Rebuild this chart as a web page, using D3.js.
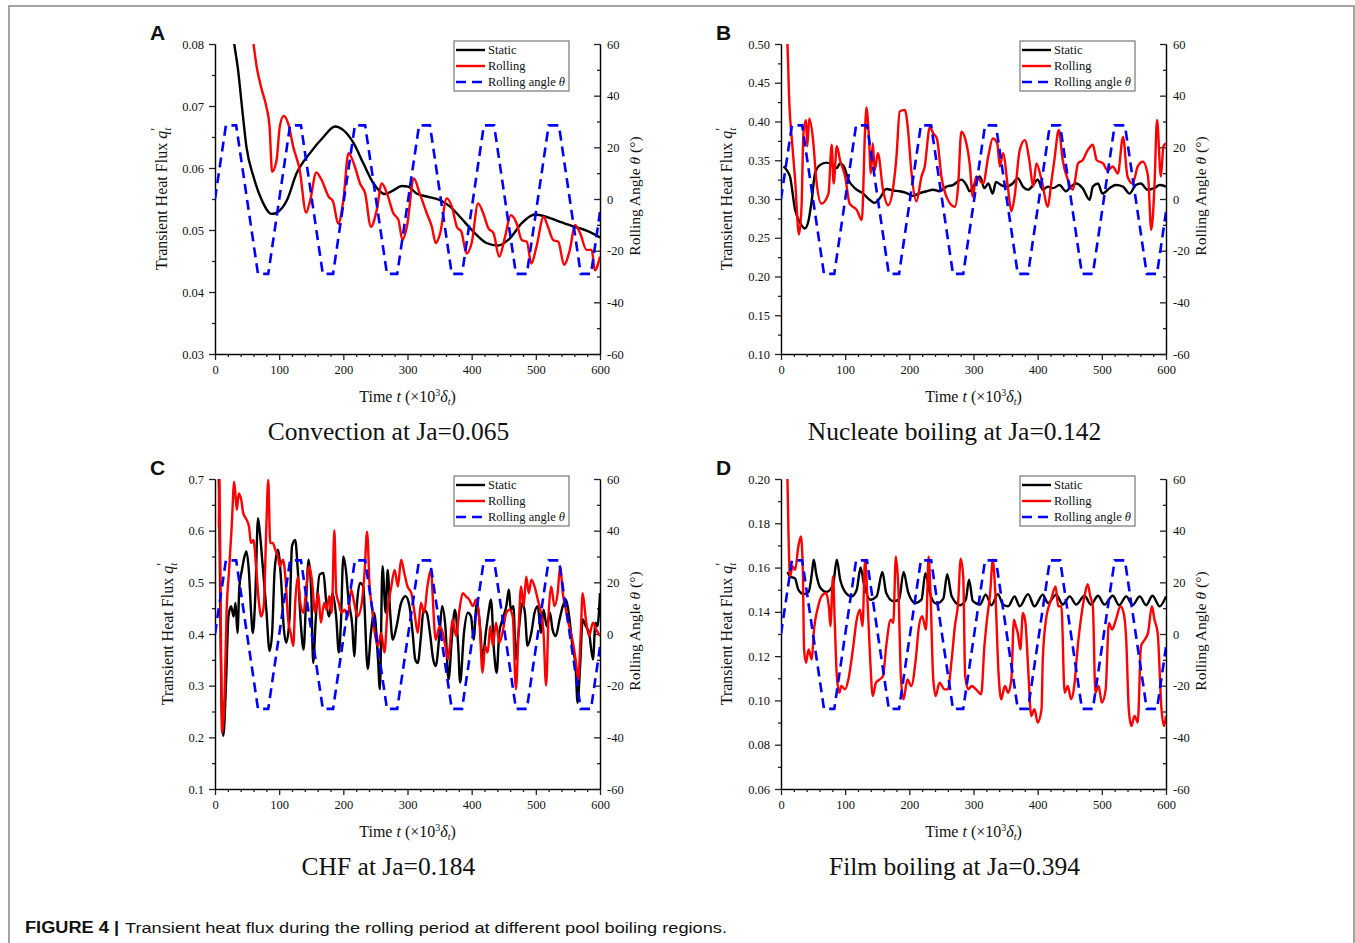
<!DOCTYPE html>
<html>
<head>
<meta charset="utf-8">
<script src="https://cdn.jsdelivr.net/npm/d3@7"></script>
<style>
body { margin: 0; background: #fff; }
svg text { fill: #111; }
.serif { font-family: "Liberation Serif", "Times New Roman", serif; }
.sans { font-family: "Liberation Sans", Arial, sans-serif; }
</style>
</head>
<body>
<div id="fig"></div>
<script>
let w = 1355;
let h = 943;
let plotW = 385;
let plotH = 310;

// rolling angle theta (deg), same motion in every panel
let angleT = [0, 17, 33, 67, 83, 117, 134, 168, 184, 218, 234, 268, 284, 318, 335, 369, 385, 419, 435, 469, 486, 520, 536, 570, 586, 600];
let angleV = [0, 28.5, 28.5, -29, -29, 28.5, 28.5, -29, -29, 28.5, 28.5, -29, -29, 28.5, 28.5, -29, -29, 28.5, 28.5, -29, -29, 28.5, 28.5, -29, -29, -5];

// A: convection, Ja=0.065
let staticA = [[28,0.0815],[30,0.0800],[36,0.0758],[42,0.0699],[49,0.0634],[60,0.0586],[73,0.0548],[88,0.0526],[99,0.0530],[112,0.0548],[127,0.0591],[148,0.0624],[169,0.0650],[187,0.0667],[200,0.0661],[216,0.0640],[231,0.0608],[247,0.0575],[265,0.0558],[278,0.0564],[291,0.0571],[301,0.0570],[314,0.0559],[330,0.0554],[351,0.0548],[366,0.0538],[382,0.0521],[403,0.0497],[423,0.0479],[441,0.0475],[460,0.0487],[478,0.0511],[499,0.0525],[517,0.0521],[538,0.0513],[558,0.0506],[579,0.0499],[600,0.0488]];
let rollingA = [[57,0.0820],[60,0.0800],[65,0.0763],[73,0.0726],[80,0.0699],[85,0.0667],[89,0.0594],[96,0.0613],[101,0.0667],[107,0.0684],[114,0.0672],[122,0.0634],[132,0.0597],[142,0.0528],[148,0.0546],[158,0.0593],[166,0.0581],[177,0.0554],[184,0.0546],[192,0.0510],[200,0.0548],[208,0.0624],[218,0.0602],[226,0.0575],[234,0.0559],[243,0.0505],[252,0.0532],[260,0.0575],[268,0.0559],[278,0.0527],[286,0.0516],[292,0.0484],[299,0.0505],[310,0.0583],[319,0.0559],[330,0.0527],[338,0.0505],[344,0.0479],[351,0.0495],[361,0.0551],[369,0.0538],[377,0.0505],[384,0.0497],[392,0.0462],[400,0.0479],[410,0.0543],[418,0.0527],[426,0.0503],[434,0.0495],[443,0.0457],[452,0.0489],[461,0.0524],[470,0.0511],[478,0.0484],[486,0.0481],[493,0.0446],[501,0.0473],[512,0.0521],[519,0.0505],[527,0.0484],[535,0.0481],[544,0.0444],[553,0.0468],[561,0.0508],[569,0.0495],[579,0.0468],[587,0.0468],[592,0.0435],[600,0.0457]];

// B: nucleate boiling, Ja=0.142
let staticB = [[4,0.342],[10,0.336],[14,0.329],[22,0.286],[30,0.269],[37,0.262],[42,0.269],[48,0.299],[53,0.333],[61,0.344],[71,0.347],[81,0.344],[87,0.340],[92,0.346],[98,0.342],[105,0.325],[115,0.314],[128,0.307],[138,0.299],[146,0.295],[154,0.301],[164,0.313],[175,0.311],[185,0.310],[195,0.308],[206,0.304],[214,0.307],[227,0.310],[237,0.312],[247,0.310],[258,0.316],[268,0.318],[281,0.325],[289,0.318],[294,0.310],[302,0.320],[310,0.329],[317,0.314],[323,0.320],[330,0.307],[335,0.322],[343,0.318],[351,0.316],[361,0.320],[369,0.327],[377,0.316],[385,0.312],[393,0.318],[400,0.325],[408,0.312],[416,0.316],[424,0.314],[434,0.318],[444,0.310],[452,0.316],[460,0.320],[470,0.314],[481,0.299],[486,0.316],[494,0.320],[501,0.307],[512,0.314],[522,0.318],[533,0.316],[543,0.307],[553,0.318],[561,0.320],[571,0.312],[582,0.314],[590,0.318],[600,0.316]];
let rollingB = [[8,0.520],[10,0.500],[13,0.423],[17,0.376],[22,0.325],[28,0.254],[32,0.290],[35,0.385],[39,0.402],[41,0.368],[44,0.404],[50,0.376],[55,0.325],[63,0.294],[74,0.307],[79,0.370],[82,0.320],[87,0.368],[92,0.350],[100,0.329],[107,0.294],[118,0.286],[126,0.273],[131,0.389],[133,0.418],[137,0.381],[140,0.333],[143,0.372],[146,0.337],[151,0.359],[159,0.312],[167,0.292],[175,0.316],[180,0.355],[185,0.413],[193,0.415],[198,0.389],[203,0.337],[211,0.297],[219,0.329],[224,0.342],[232,0.393],[237,0.385],[243,0.378],[250,0.329],[260,0.299],[271,0.290],[276,0.316],[281,0.387],[287,0.378],[294,0.346],[299,0.303],[304,0.329],[315,0.320],[323,0.355],[330,0.378],[337,0.372],[341,0.342],[346,0.359],[354,0.312],[359,0.284],[364,0.303],[372,0.363],[380,0.376],[387,0.350],[393,0.316],[398,0.346],[406,0.325],[416,0.290],[421,0.320],[426,0.350],[433,0.389],[439,0.350],[447,0.325],[455,0.312],[463,0.346],[470,0.350],[478,0.363],[486,0.370],[492,0.350],[502,0.346],[509,0.337],[517,0.342],[525,0.333],[533,0.380],[540,0.329],[548,0.320],[556,0.342],[564,0.348],[572,0.329],[577,0.260],[582,0.316],[586,0.402],[592,0.329],[596,0.368],[600,0.372]];

// C: CHF, Ja=0.184
let staticC = [[5,0.720],[6,0.700],[8,0.479],[10,0.274],[13,0.203],[17,0.300],[21,0.434],[25,0.454],[29,0.434],[32,0.460],[35,0.402],[38,0.492],[42,0.524],[46,0.550],[49,0.560],[53,0.518],[56,0.447],[59,0.402],[63,0.479],[67,0.624],[70,0.595],[74,0.537],[80,0.447],[85,0.367],[89,0.402],[93,0.524],[98,0.563],[103,0.505],[107,0.415],[111,0.383],[116,0.428],[120,0.570],[125,0.582],[129,0.524],[134,0.415],[138,0.370],[142,0.467],[146,0.544],[150,0.479],[153,0.344],[157,0.428],[163,0.515],[169,0.518],[173,0.467],[178,0.434],[183,0.479],[189,0.431],[193,0.364],[196,0.415],[200,0.550],[204,0.524],[208,0.467],[214,0.415],[217,0.357],[221,0.454],[226,0.499],[231,0.492],[238,0.332],[243,0.402],[248,0.441],[254,0.351],[257,0.293],[261,0.531],[266,0.441],[269,0.524],[273,0.441],[277,0.389],[283,0.415],[290,0.460],[297,0.473],[303,0.454],[308,0.402],[312,0.351],[316,0.344],[321,0.396],[325,0.447],[330,0.441],[335,0.402],[340,0.351],[344,0.338],[350,0.402],[354,0.454],[359,0.415],[364,0.312],[369,0.389],[374,0.447],[379,0.377],[382,0.306],[388,0.402],[394,0.441],[399,0.434],[403,0.389],[408,0.460],[413,0.415],[417,0.351],[422,0.402],[427,0.447],[430,0.467],[435,0.364],[439,0.325],[443,0.402],[448,0.428],[454,0.454],[458,0.486],[461,0.447],[465,0.454],[469,0.351],[473,0.402],[479,0.460],[483,0.441],[487,0.377],[493,0.402],[498,0.441],[503,0.454],[508,0.402],[512,0.447],[517,0.415],[522,0.441],[526,0.409],[531,0.396],[537,0.428],[542,0.454],[547,0.467],[552,0.434],[557,0.377],[562,0.338],[565,0.267],[569,0.338],[573,0.428],[578,0.415],[583,0.402],[589,0.351],[593,0.422],[596,0.415],[600,0.479]];
let rollingC = [[6,0.608],[7,0.700],[9,0.428],[11,0.209],[15,0.287],[18,0.441],[22,0.524],[26,0.608],[30,0.695],[34,0.640],[37,0.672],[41,0.659],[44,0.634],[48,0.624],[53,0.608],[56,0.576],[60,0.582],[64,0.531],[68,0.467],[72,0.434],[76,0.454],[80,0.608],[83,0.698],[86,0.576],[90,0.576],[94,0.563],[98,0.550],[101,0.531],[106,0.544],[110,0.505],[114,0.428],[118,0.402],[122,0.377],[125,0.460],[129,0.511],[133,0.460],[138,0.441],[142,0.486],[147,0.531],[151,0.505],[156,0.441],[161,0.479],[165,0.422],[170,0.460],[174,0.447],[178,0.473],[182,0.441],[186,0.601],[189,0.479],[193,0.460],[197,0.441],[202,0.447],[207,0.434],[212,0.486],[217,0.460],[222,0.434],[228,0.454],[233,0.518],[237,0.598],[241,0.492],[245,0.447],[249,0.402],[254,0.377],[259,0.402],[264,0.364],[269,0.447],[274,0.486],[280,0.524],[285,0.492],[290,0.544],[295,0.518],[300,0.492],[306,0.479],[311,0.441],[316,0.402],[321,0.460],[326,0.441],[331,0.492],[337,0.524],[339,0.479],[344,0.389],[350,0.415],[355,0.402],[359,0.377],[363,0.351],[366,0.377],[370,0.428],[376,0.396],[381,0.447],[386,0.479],[391,0.473],[396,0.467],[402,0.454],[407,0.467],[412,0.428],[417,0.325],[421,0.377],[425,0.364],[429,0.415],[433,0.377],[438,0.422],[443,0.383],[448,0.402],[454,0.441],[459,0.447],[464,0.434],[469,0.293],[473,0.402],[477,0.492],[481,0.454],[485,0.511],[489,0.479],[493,0.505],[498,0.492],[503,0.467],[508,0.441],[512,0.402],[516,0.300],[520,0.441],[524,0.492],[529,0.454],[534,0.479],[538,0.531],[542,0.479],[547,0.447],[552,0.415],[557,0.389],[562,0.351],[566,0.312],[570,0.402],[573,0.479],[578,0.428],[583,0.396],[589,0.422],[594,0.409],[600,0.396]];

// D: film boiling, Ja=0.394
let staticD = [[10,0.158],[14,0.156],[22,0.155],[27,0.150],[35,0.148],[43,0.149],[48,0.157],[51,0.1635],[55,0.157],[61,0.151],[71,0.149],[81,0.152],[87,0.1635],[92,0.155],[100,0.149],[110,0.147],[118,0.150],[124,0.160],[129,0.153],[139,0.1455],[149,0.147],[158,0.158],[164,0.1485],[175,0.1448],[184,0.1455],[191,0.158],[198,0.149],[209,0.144],[219,0.1455],[225,0.1575],[232,0.1485],[242,0.1437],[253,0.146],[259,0.157],[266,0.147],[279,0.143],[288,0.1455],[293,0.1545],[299,0.1448],[310,0.1433],[319,0.1478],[328,0.143],[338,0.148],[346,0.1433],[354,0.1425],[364,0.147],[372,0.1425],[385,0.148],[395,0.1425],[408,0.1478],[416,0.144],[429,0.1478],[439,0.1433],[450,0.147],[460,0.1433],[473,0.1473],[483,0.1433],[494,0.1473],[504,0.1433],[517,0.1473],[527,0.143],[538,0.147],[548,0.143],[559,0.147],[569,0.143],[579,0.1473],[590,0.1425],[600,0.147]];
let rollingD = [[9,0.204],[10,0.200],[12,0.171],[14,0.156],[18,0.1605],[22,0.159],[27,0.1695],[31,0.174],[34,0.159],[36,0.123],[39,0.117],[43,0.123],[48,0.1185],[51,0.1305],[58,0.1425],[63,0.147],[70,0.1485],[75,0.141],[77,0.1335],[81,0.156],[84,0.1335],[87,0.111],[91,0.1035],[94,0.1065],[100,0.105],[105,0.1095],[112,0.123],[118,0.1365],[123,0.141],[127,0.1335],[131,0.1635],[135,0.144],[139,0.1185],[143,0.102],[148,0.108],[154,0.1095],[159,0.111],[164,0.1245],[171,0.1365],[175,0.135],[179,0.165],[183,0.150],[187,0.1095],[191,0.1005],[197,0.1095],[203,0.1065],[210,0.1185],[215,0.1335],[220,0.138],[226,0.132],[230,0.165],[233,0.1485],[237,0.111],[241,0.102],[247,0.108],[255,0.105],[260,0.105],[266,0.1185],[271,0.1335],[276,0.144],[280,0.164],[284,0.156],[287,0.111],[292,0.105],[297,0.1065],[304,0.105],[312,0.1028],[317,0.1245],[321,0.1365],[326,0.1485],[330,0.1635],[334,0.1485],[339,0.1125],[343,0.1005],[349,0.1065],[354,0.1035],[359,0.1095],[363,0.1365],[366,0.1335],[369,0.1305],[373,0.123],[377,0.1395],[381,0.135],[385,0.1155],[390,0.093],[395,0.096],[400,0.090],[406,0.096],[408,0.1185],[413,0.1365],[421,0.1455],[428,0.1515],[432,0.1425],[437,0.1425],[442,0.1035],[447,0.1065],[452,0.1005],[457,0.1065],[463,0.126],[468,0.138],[473,0.147],[478,0.1525],[482,0.147],[486,0.1425],[490,0.1035],[495,0.1065],[500,0.099],[506,0.105],[511,0.135],[516,0.132],[522,0.1365],[529,0.1425],[534,0.1395],[538,0.1275],[542,0.096],[546,0.0885],[551,0.093],[556,0.090],[561,0.1245],[567,0.1275],[572,0.1305],[578,0.1425],[582,0.1365],[587,0.1305],[593,0.096],[597,0.0885],[600,0.093]];

let xMajor = [0, 100, 200, 300, 400, 500, 600];
let angleMajor = [-60, -40, -20, 0, 20, 40, 60];
let legendLabels = ["Static", "Rolling", "Rolling angle "];

let svg = d3.select("#fig")
    .append("svg")
    .attr("width", w)
    .attr("height", h)

// outer frame of the figure
svg.append("path")
    .attr("d", "M9," + h + " V6 H1354 V" + h)
    .attr("fill", "none")
    .attr("stroke", "#858585")
    .attr("stroke-width", 1.5)

let panels = [
    {id: "A", x0: 215, y0: 44, lo: 0.03, hi: 0.08, step: 0.01, fmt: ".2f", titleDx: 48, stat: staticA, roll: rollingA, name: "Convection at Ja=0.065"},
    {id: "B", x0: 781, y0: 44, lo: 0.10, hi: 0.50, step: 0.05, fmt: ".2f", titleDx: 49, stat: staticB, roll: rollingB, name: "Nucleate boiling at Ja=0.142"},
    {id: "C", x0: 215, y0: 479, lo: 0.1, hi: 0.7, step: 0.1, fmt: ".1f", titleDx: 42, stat: staticC, roll: rollingC, name: "CHF at Ja=0.184"},
    {id: "D", x0: 781, y0: 479, lo: 0.06, hi: 0.20, step: 0.02, fmt: ".2f", titleDx: 49, stat: staticD, roll: rollingD, name: "Film boiling at Ja=0.394"}
];

function styleAxis(g) {
    g.attr("font-family", null).attr("font-size", null)
    g.select(".domain").attr("stroke", "#222").attr("stroke-width", 1.5)
    g.selectAll(".tick line").attr("stroke", "#222").attr("stroke-width", 1.3)
    g.selectAll(".tick text")
        .attr("class", "serif")
        .style("font-size", "12.5px")
        .attr("fill", "#111")
}

function drawPanel(p) {
    let g = svg.append("g").attr("transform", "translate(" + p.x0 + "," + p.y0 + ")")

    let x = d3.scaleLinear().domain([0, 600]).range([0, plotW])
    let y = d3.scaleLinear().domain([p.lo, p.hi]).range([plotH, 0])
    let yr = d3.scaleLinear().domain([-60, 60]).range([plotH, 0])

    let n = Math.round((p.hi - p.lo) / p.step)
    let yMajor = d3.range(n + 1).map(i => p.lo + i * p.step)
    let yMinor = d3.range(n).map(i => p.lo + (i + 0.5) * p.step)
    let xMinor = d3.range(0, 601, 20).filter(v => v % 100 != 0)
    let angleMinor = [-50, -30, -10, 10, 30, 50]

    g.append("clipPath").attr("id", "clip" + p.id)
        .append("rect").attr("width", plotW).attr("height", plotH)

    // left axis
    let left = g.append("g")
    left.call(d3.axisLeft(y).tickValues(yMajor).tickFormat(d3.format(p.fmt)).tickSize(6).tickSizeOuter(0).tickPadding(5))
    left.append("g").call(d3.axisLeft(y).tickValues(yMinor).tickFormat("").tickSize(3).tickSizeOuter(0))
    styleAxis(left)

    // bottom axis
    let bottom = g.append("g").attr("transform", "translate(0," + plotH + ")")
    bottom.call(d3.axisBottom(x).tickValues(xMajor).tickSize(6).tickSizeOuter(0).tickPadding(5))
    bottom.append("g").call(d3.axisBottom(x).tickValues(xMinor).tickFormat("").tickSize(3).tickSizeOuter(0))
    styleAxis(bottom)

    // right axis (angle), ticks point inward, plain hyphen minus
    let right = g.append("g").attr("transform", "translate(" + plotW + ",0)")
    right.call(d3.axisRight(yr).tickValues(angleMajor).tickFormat(d => String(d)).tickSize(-6).tickSizeOuter(0).tickPadding(7))
    right.append("g").call(d3.axisRight(yr).tickValues(angleMinor).tickFormat("").tickSize(-3).tickSizeOuter(0))
    styleAxis(right)

    let lines = g.append("g").attr("clip-path", "url(#clip" + p.id + ")")

    let line = d3.line().x(d => x(d[0])).y(d => y(d[1])).curve(d3.curveMonotoneX)
    let angleLine = d3.line().x((d, i) => x(angleT[i])).y(d => yr(d))

    lines.append("path")
        .datum(p.stat)
        .attr("d", line)
        .attr("fill", "none")
        .attr("stroke", "#000")
        .attr("stroke-width", 2.4)
        .attr("stroke-linejoin", "round")

    lines.append("path")
        .datum(p.roll)
        .attr("d", line)
        .attr("fill", "none")
        .attr("stroke", "#ff0000")
        .attr("stroke-width", 2.4)
        .attr("stroke-linejoin", "round")

    lines.append("path")
        .datum(angleV)
        .attr("d", angleLine)
        .attr("fill", "none")
        .attr("stroke", "#0000ff")
        .attr("stroke-width", 2.6)
        .attr("stroke-dasharray", "10,6")

    // legend
    let leg = g.append("g").attr("transform", "translate(239,-3)")
    leg.append("rect")
        .attr("width", 115)
        .attr("height", 50)
        .attr("fill", "#fff")
        .attr("stroke", "#777")
        .attr("stroke-width", 1.2)
    let colors = ["#000", "#ff0000", "#0000ff"]
    legendLabels.forEach(function (lab, i) {
        let ly = 9 + i * 16
        leg.append("line")
            .attr("x1", 2).attr("x2", 31)
            .attr("y1", ly).attr("y2", ly)
            .attr("stroke", colors[i])
            .attr("stroke-width", i == 2 ? 2.6 : 2.4)
            .attr("stroke-dasharray", i == 2 ? "10,6" : null)
        let t = leg.append("text")
            .attr("class", "serif")
            .attr("x", 34)
            .attr("y", ly + 4)
            .style("font-size", "12.5px")
            .text(lab)
        if (i == 2) t.append("tspan").attr("font-style", "italic").text("θ")
    })

    // left title
    let lt = g.append("text")
        .attr("class", "serif")
        .attr("transform", "translate(" + (-p.titleDx) + "," + (plotH / 2) + ") rotate(-90)")
        .attr("text-anchor", "middle")
        .style("font-size", "16px")
    lt.append("tspan").text("Transient Heat Flux  ")
    lt.append("tspan").attr("font-style", "italic").text("q")
    lt.append("tspan").attr("font-style", "italic").style("font-size", "11px").attr("dy", 4).text("t")
    lt.append("tspan").style("font-size", "14px").attr("dx", -3).attr("dy", -10).text("′")

    // right title
    let rt = g.append("text")
        .attr("class", "serif")
        .attr("transform", "translate(" + (plotW + 40) + "," + (plotH / 2 - 3) + ") rotate(-90)")
        .attr("text-anchor", "middle")
        .style("font-size", "15.5px")
    rt.append("tspan").text("Rolling Angle ")
    rt.append("tspan").attr("font-style", "italic").text("θ")
    rt.append("tspan").text(" (°)")

    // bottom title
    let bt = g.append("text")
        .attr("class", "serif")
        .attr("x", plotW / 2)
        .attr("y", plotH + 48)
        .attr("text-anchor", "middle")
        .style("font-size", "16px")
    bt.append("tspan").text("Time ")
    bt.append("tspan").attr("font-style", "italic").text("t")
    bt.append("tspan").text(" (×10")
    bt.append("tspan").style("font-size", "10px").attr("dy", -6).text("3")
    bt.append("tspan").attr("font-style", "italic").attr("dy", 6).text("δ")
    bt.append("tspan").attr("font-style", "italic").style("font-size", "10px").attr("dy", 3).text("t")
    bt.append("tspan").attr("dy", -3).text(")")

    // panel subtitle
    g.append("text")
        .attr("class", "serif")
        .attr("x", plotW / 2 - 19)
        .attr("y", plotH + 86)
        .attr("text-anchor", "middle")
        .style("font-size", "25.5px")
        .text(p.name)

    // panel letter
    g.append("text")
        .attr("class", "sans")
        .attr("x", -65)
        .attr("y", -4)
        .attr("font-weight", "bold")
        .style("font-size", "21px")
        .text(p.id)
}

panels.forEach(drawPanel)

// caption
svg.append("text")
    .attr("class", "sans")
    .attr("x", 25)
    .attr("y", 933)
    .attr("font-weight", "bold")
    .style("font-size", "16px")
    .attr("textLength", 94)
    .attr("lengthAdjust", "spacingAndGlyphs")
    .text("FIGURE 4 |")
svg.append("text")
    .attr("class", "sans")
    .attr("x", 125)
    .attr("y", 933)
    .style("font-size", "15.5px")
    .attr("textLength", 602)
    .attr("lengthAdjust", "spacingAndGlyphs")
    .text("Transient heat flux during the rolling period at different pool boiling regions.")
</script>
</body>
</html>
